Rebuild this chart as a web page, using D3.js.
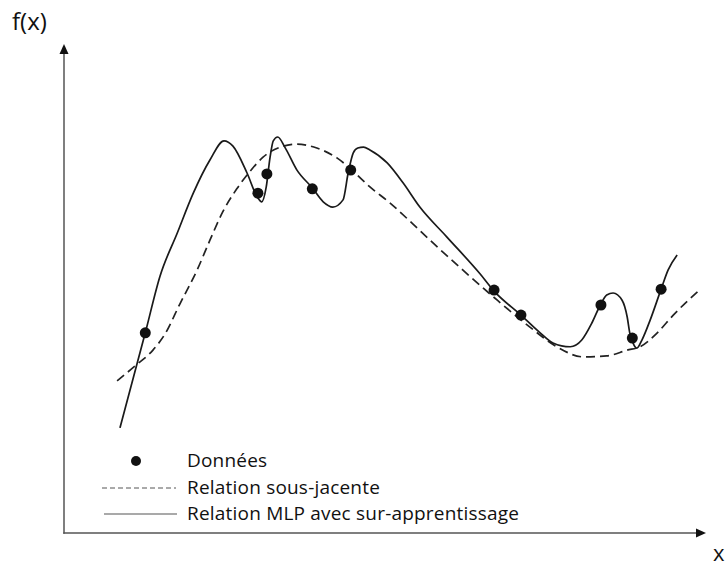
<!DOCTYPE html>
<html>
<head>
<meta charset="utf-8">
<script src="https://cdn.jsdelivr.net/npm/d3@7"></script>
<style>
  html, body { margin: 0; padding: 0; background: #fff; }
  svg { display: block; }
  text { font-family: "Open Sans", "Noto Sans", sans-serif; fill: #111; }
</style>
</head>
<body>
<div id="chart"></div>
<script>
// ---- Data (arbitrary units 0..10) ----
const dataX = [1.27, 3.03, 3.17, 3.88, 4.48, 6.72, 7.14, 8.39, 8.88, 9.33];
const dataY = [4.17, 7.08, 7.48, 7.17, 7.56, 5.06, 4.54, 4.75, 4.06, 5.08];

const trueX = [0.83, 1.11, 1.39, 1.58, 1.81, 2.08, 2.28, 2.48, 2.70, 2.91, 3.11, 3.38, 3.64, 3.95, 4.27, 4.50, 4.78, 5.09, 5.45, 5.72, 6.23, 6.77, 7.28, 7.70, 8.11, 8.48, 8.80, 9.00, 9.27, 9.52, 9.91];
const trueY = [3.17, 3.48, 3.81, 4.15, 4.77, 5.48, 6.10, 6.69, 7.17, 7.54, 7.83, 8.04, 8.10, 8.02, 7.81, 7.56, 7.21, 6.88, 6.44, 6.10, 5.48, 4.85, 4.29, 3.88, 3.67, 3.69, 3.81, 3.88, 4.17, 4.54, 5.04];

const mlpX = [0.875, 1.27, 1.50, 1.77, 2.02, 2.28, 2.50, 2.64, 2.86, 3.02, 3.09, 3.16, 3.22, 3.27, 3.34, 3.45, 3.64, 3.88, 4.05, 4.20, 4.36, 4.44, 4.52, 4.59, 4.68, 4.78, 5.05, 5.30, 5.56, 5.98, 6.50, 6.72, 7.14, 7.44, 7.64, 7.91, 8.09, 8.25, 8.38, 8.48, 8.58, 8.72, 8.80, 8.84, 8.89, 8.95, 9.03, 9.16, 9.33, 9.44, 9.58];
const mlpY = [2.19, 4.17, 5.35, 6.25, 7.08, 7.77, 8.17, 8.06, 7.50, 7.00, 6.90, 7.21, 7.83, 8.17, 8.25, 8.04, 7.56, 7.19, 6.90, 6.79, 6.94, 7.50, 7.92, 8.02, 8.04, 7.98, 7.71, 7.29, 6.79, 6.17, 5.40, 5.04, 4.54, 4.17, 3.96, 3.88, 4.02, 4.38, 4.75, 4.96, 5.00, 4.85, 4.50, 4.17, 3.96, 3.85, 4.02, 4.44, 5.08, 5.48, 5.79];

const axisLabels = ["f(x)", "x"];
const legendLabels = ["Données", "Relation sous-jacente", "Relation MLP avec sur-apprentissage"];

// ---- Chart ----
const W = 727, H = 568;
const svg = d3.select("#chart").append("svg").attr("width", W).attr("height", H);

const x = d3.scaleLinear().domain([0, 10]).range([64, 704]);
const y = d3.scaleLinear().domain([0, 10]).range([533, 53]);

const axisColor = "#555";
// y axis
svg.append("line").attr("x1", x(0)).attr("x2", x(0)).attr("y1", y(0) + 0.75).attr("y2", 52)
  .attr("stroke", axisColor).attr("stroke-width", 1.5);
svg.append("path").attr("d", `M${x(0)},44 L${x(0) - 4.5},54 L${x(0) + 4.5},54 Z`).attr("fill", "#111");
// x axis
svg.append("line").attr("x1", x(0) - 0.75).attr("x2", 698).attr("y1", y(0)).attr("y2", y(0))
  .attr("stroke", axisColor).attr("stroke-width", 1.5);
svg.append("path").attr("d", `M706,${y(0)} L696,${y(0) - 4.5} L696,${y(0) + 4.5} Z`).attr("fill", "#111");

svg.append("text").attr("x", 12).attr("y", 30).attr("font-size", 24).text(axisLabels[0]);
svg.append("text").attr("x", 713).attr("y", 561).attr("font-size", 22).text(axisLabels[1]);

// curves
const line = d3.line().x(d => x(d[0])).y(d => y(d[1])).curve(d3.curveMonotoneX);

svg.append("path").datum(d3.zip(trueX, trueY)).attr("d", line)
  .attr("fill", "none").attr("stroke", "#222").attr("stroke-width", 1.7)
  .attr("stroke-dasharray", "9,5");

svg.append("path").datum(d3.zip(mlpX, mlpY)).attr("d", line)
  .attr("fill", "none").attr("stroke", "#1a1a1a").attr("stroke-width", 1.7);

svg.selectAll("circle.pt").data(d3.zip(dataX, dataY)).enter().append("circle")
  .attr("class", "pt").attr("cx", d => x(d[0])).attr("cy", d => y(d[1])).attr("r", 5.5)
  .attr("fill", "#111");

// legend
const lg = svg.append("g");
lg.append("circle").attr("cx", 136).attr("cy", 461).attr("r", 5).attr("fill", "#111");
lg.append("line").attr("x1", 102).attr("x2", 176).attr("y1", 488).attr("y2", 488)
  .attr("stroke", "#555").attr("stroke-width", 1).attr("stroke-dasharray", "5,3");
lg.append("line").attr("x1", 104).attr("x2", 177).attr("y1", 514).attr("y2", 514)
  .attr("stroke", "#555").attr("stroke-width", 1.2);
legendLabels.forEach((t, i) => {
  lg.append("text").attr("x", 187).attr("y", 467 + i * 26.5).attr("font-size", 19)
    .attr("letter-spacing", 0.2).text(t);
});
</script>
</body>
</html>
